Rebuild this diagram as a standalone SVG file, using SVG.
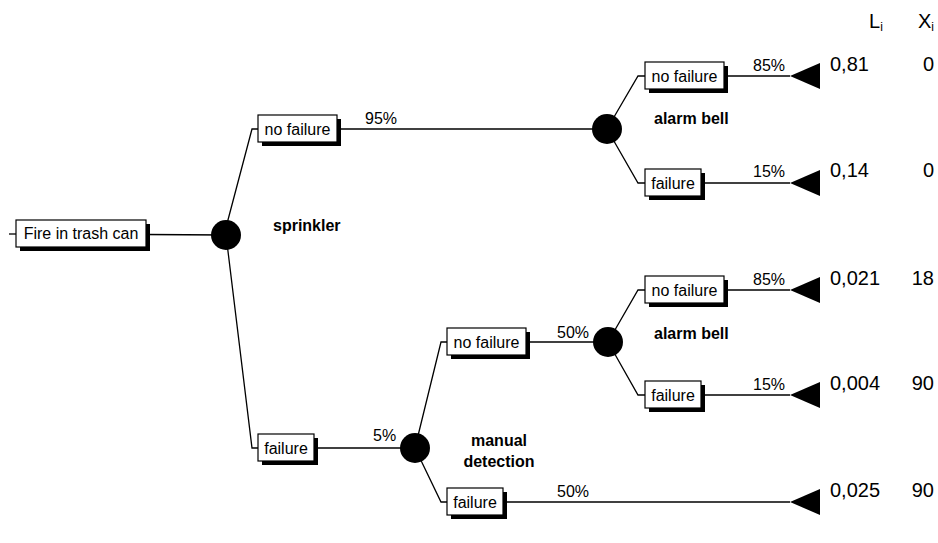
<svg xmlns="http://www.w3.org/2000/svg" width="938" height="543" viewBox="0 0 938 543">
<style>
  .bg{fill:#fff}
  .box{fill:#fff;stroke:#000;stroke-width:1.2}
  .sh{fill:#000}
  .ln{fill:none;stroke:#000;stroke-width:1.3}
  .ch{fill:#000}
  .t{font-family:"Liberation Sans",Arial,sans-serif;font-size:16px;fill:#000}
  .c{text-anchor:middle}
  .b{font-family:"Liberation Sans",Arial,sans-serif;font-size:16px;font-weight:bold;fill:#000}
  .v{font-family:"Liberation Sans",Arial,sans-serif;font-size:20px;fill:#000}
  .e{text-anchor:end}
</style>
<rect class="bg" x="0" y="0" width="938" height="543"/>

<g id="connectors">
  <line class="ln" x1="9" y1="234" x2="16" y2="234"/>
  <line class="ln" x1="146" y1="234.5" x2="226" y2="235"/>
  <polyline class="ln" points="224,235 252,129 258,129"/>
  <polyline class="ln" points="226,235 252,448 258,448"/>
  <line class="ln" x1="337" y1="129" x2="607" y2="129"/>
  <polyline class="ln" points="607,129 638,76 645,76"/>
  <polyline class="ln" points="607,129 638,183 645,183"/>
  <line class="ln" x1="724" y1="76" x2="790" y2="76"/>
  <line class="ln" x1="701" y1="183" x2="790" y2="183"/>
  <line class="ln" x1="314" y1="448" x2="415" y2="448"/>
  <polyline class="ln" points="415,448 441,342 447,342"/>
  <line class="ln" x1="526" y1="342" x2="608" y2="342"/>
  <polyline class="ln" points="608,342 638,290 645,290"/>
  <polyline class="ln" points="608,342 638,395 645,395"/>
  <line class="ln" x1="724" y1="290" x2="790" y2="290"/>
  <line class="ln" x1="701" y1="395" x2="790" y2="395"/>
  <polyline class="ln" points="415,448 441,502 447,502"/>
  <line class="ln" x1="503" y1="502" x2="790" y2="502"/>
</g>

<g id="root">
  <rect class="sh" x="20" y="224" width="130" height="27"/>
  <rect class="box" x="16" y="220" width="130" height="27"/>
  <text class="t c" x="81" y="239">Fire in trash can</text>
</g>

<g id="chance-sprinkler">
  <circle class="ch" cx="226" cy="235" r="15"/>
  <text class="b" x="273" y="231">sprinkler</text>
</g>

<g id="sprinkler-nofailure">
  <rect class="sh" x="262" y="119" width="79" height="27"/>
  <rect class="box" x="258" y="115" width="79" height="27"/>
  <text class="t c" x="297.5" y="135">no failure</text>
  <text class="t" x="365" y="124">95%</text>
</g>

<g id="chance-alarm1">
  <circle class="ch" cx="607" cy="129" r="15"/>
  <text class="b" x="654" y="124">alarm bell</text>
</g>

<g id="alarm1-nofailure">
  <rect class="sh" x="649" y="66" width="79" height="27"/>
  <rect class="box" x="645" y="62" width="79" height="27"/>
  <text class="t c" x="684.5" y="82">no failure</text>
  <text class="t" x="753" y="71">85%</text>
</g>
<g id="end1">
  <polygon class="ch" points="790,76 820,63 820,89"/>
  <text class="v" x="830" y="71">0,81</text>
  <text class="v e" x="934" y="71">0</text>
</g>

<g id="alarm1-failure">
  <rect class="sh" x="649" y="173" width="56" height="27"/>
  <rect class="box" x="645" y="169" width="56" height="27"/>
  <text class="t c" x="673" y="189">failure</text>
  <text class="t" x="753" y="177">15%</text>
</g>
<g id="end2">
  <polygon class="ch" points="790,183 820,170 820,196"/>
  <text class="v" x="830" y="177">0,14</text>
  <text class="v e" x="934" y="177">0</text>
</g>

<g id="sprinkler-failure">
  <rect class="sh" x="262" y="438" width="56" height="27"/>
  <rect class="box" x="258" y="434" width="56" height="27"/>
  <text class="t c" x="286" y="454">failure</text>
  <text class="t" x="373" y="441">5%</text>
</g>

<g id="chance-manual">
  <circle class="ch" cx="415" cy="448" r="15"/>
  <text class="b c" x="499" y="446">manual</text>
  <text class="b c" x="499" y="467">detection</text>
</g>

<g id="manual-nofailure">
  <rect class="sh" x="451" y="332" width="79" height="27"/>
  <rect class="box" x="447" y="328" width="79" height="27"/>
  <text class="t c" x="486.5" y="348">no failure</text>
  <text class="t" x="557" y="338">50%</text>
</g>

<g id="chance-alarm2">
  <circle class="ch" cx="608" cy="342" r="15"/>
  <text class="b" x="654" y="339">alarm bell</text>
</g>

<g id="alarm2-nofailure">
  <rect class="sh" x="649" y="280" width="79" height="27"/>
  <rect class="box" x="645" y="276" width="79" height="27"/>
  <text class="t c" x="684.5" y="296">no failure</text>
  <text class="t" x="753" y="285">85%</text>
</g>
<g id="end3">
  <polygon class="ch" points="790,290 820,277 820,303"/>
  <text class="v" x="830" y="285">0,021</text>
  <text class="v e" x="934" y="285">18</text>
</g>

<g id="alarm2-failure">
  <rect class="sh" x="649" y="385" width="56" height="27"/>
  <rect class="box" x="645" y="381" width="56" height="27"/>
  <text class="t c" x="673" y="401">failure</text>
  <text class="t" x="753" y="390">15%</text>
</g>
<g id="end4">
  <polygon class="ch" points="790,395 820,382 820,408"/>
  <text class="v" x="830" y="390">0,004</text>
  <text class="v e" x="934" y="390">90</text>
</g>

<g id="manual-failure">
  <rect class="sh" x="451" y="492" width="56" height="27"/>
  <rect class="box" x="447" y="488" width="56" height="27"/>
  <text class="t c" x="475" y="508">failure</text>
  <text class="t" x="557" y="497">50%</text>
</g>
<g id="end5">
  <polygon class="ch" points="790,502 820,489 820,515"/>
  <text class="v" x="830" y="497">0,025</text>
  <text class="v e" x="934" y="497">90</text>
</g>

<g id="header">
  <text class="v" x="869" y="28">L<tspan font-size="12" dy="3">i</tspan></text>
  <text class="v" x="918" y="28">X<tspan font-size="12" dy="3">i</tspan></text>
</g>
</svg>
